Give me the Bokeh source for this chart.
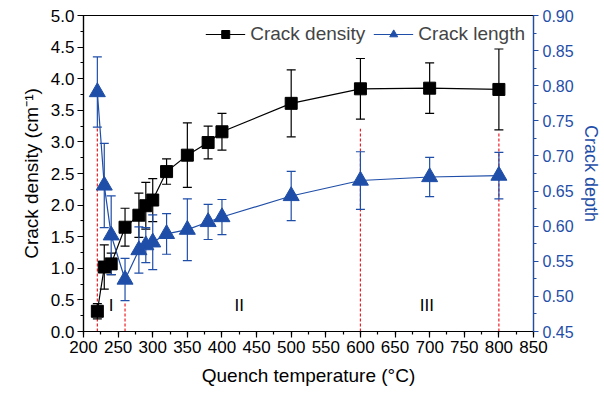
from bokeh.plotting import figure
from bokeh.models import Range1d, LinearAxis, FixedTicker, Legend, LegendItem, CustomJSTickFormatter
from bokeh.core.properties import value
from bokeh.embed import file_html
from bokeh.resources import INLINE

# Data
temps = [220, 230, 240, 260, 280, 290, 300, 320, 350, 380, 400, 500, 600, 700, 800]
density = [0.32, 1.02, 1.07, 1.65, 1.84, 1.99, 2.08, 2.53, 2.79, 2.99, 3.16, 3.61, 3.84, 3.85, 3.83]
density_err = [0.12, 0.35, 0.17, 0.30, 0.35, 0.37, 0.34, 0.20, 0.51, 0.26, 0.29, 0.53, 0.48, 0.40, 0.64]
length = [0.791, 0.658, 0.587, 0.524, 0.566, 0.573, 0.577, 0.589, 0.595, 0.606, 0.613, 0.643, 0.665, 0.670, 0.672]
length_err = [0.050, 0.060, 0.056, 0.030, 0.033, 0.025, 0.039, 0.029, 0.044, 0.025, 0.025, 0.035, 0.041, 0.028, 0.033]

divider_x = [220, 260, 600, 800]
divider_top = [3.24, 0.46, 3.21, 3.16]

region_labels = ["I", "II", "III"]
region_x = [240, 425, 696]
region_y = [0.41, 0.41, 0.41]

x_ticks = list(range(200, 851, 50))
left_ticks = [0.0, 0.5, 1.0, 1.5, 2.0, 2.5, 3.0, 3.5, 4.0, 4.5, 5.0]
right_ticks = [0.45, 0.50, 0.55, 0.60, 0.65, 0.70, 0.75, 0.80, 0.85, 0.90]

BLUE = "#1f4ea8"
FONT = "Liberation Sans"

p = figure(width=604, height=396, output_backend="svg", toolbar_location=None,
           x_range=Range1d(200, 850), y_range=Range1d(0, 5.0),
           frame_width=450, frame_height=316,
           min_border_left=83, min_border_right=71, min_border_top=15, min_border_bottom=65)
p.extra_y_ranges = {"right": Range1d(0.45, 0.90)}
p.grid.visible = False
p.outline_line_color = "black"
p.outline_line_width = 1.2
p.background_fill_color = "white"
p.border_fill_color = "white"

def style_axis(ax, color):
    ax.axis_line_color = color
    ax.axis_line_width = 1.2
    ax.major_tick_line_color = color
    ax.minor_tick_line_color = color
    ax.major_tick_line_width = 1.2
    ax.minor_tick_line_width = 1.2
    ax.major_tick_in = 0
    ax.major_tick_out = 6
    ax.minor_tick_in = 0
    ax.minor_tick_out = 3
    ax.major_label_text_color = color
    ax.major_label_text_font = FONT
    ax.major_label_text_font_size = "17px"
    ax.axis_label_text_color = color
    ax.axis_label_text_font = FONT
    ax.axis_label_text_font_size = "19px"
    ax.axis_label_text_font_style = "normal"

xa = p.xaxis[0]
style_axis(xa, "black")
xa.ticker = FixedTicker(ticks=x_ticks, minor_ticks=list(range(200, 851, 25)))
xa.axis_label = "Quench temperature (°C)"
xa.axis_label_standoff = 9
xa.major_label_standoff = 3

ya = p.yaxis[0]
style_axis(ya, "black")
ya.ticker = FixedTicker(ticks=left_ticks, minor_ticks=[i * 0.25 for i in range(21)])
ya.formatter = CustomJSTickFormatter(code="return tick.toFixed(1);")
ya.axis_label = "Crack density (cm⁻¹)"
ya.axis_label_standoff = 6
ya.major_label_standoff = 3

ra = LinearAxis(y_range_name="right")
style_axis(ra, BLUE)
ra.major_label_text_font_size = "16px"
ra.axis_label_text_font_size = "18px"
ra.major_tick_out = 5
ra.ticker = FixedTicker(ticks=right_ticks, minor_ticks=[0.45 + i * 0.025 for i in range(19)])
ra.formatter = CustomJSTickFormatter(code="return tick.toFixed(2);")
ra.axis_label = "Crack depth"
ra.axis_label_standoff = 4
ra.major_label_standoff = 4
p.add_layout(ra, "right")

# red dividers
p.segment(x0=divider_x, y0=[0] * 4, x1=divider_x, y1=divider_top,
          line_color="#ee1c24", line_width=1.2, line_dash="3 2")

# error bars density
d_lo = [v - e for v, e in zip(density, density_err)]
d_hi = [v + e for v, e in zip(density, density_err)]
p.segment(x0=temps, y0=d_lo, x1=temps, y1=d_hi, line_color="black", line_width=1.2)
p.scatter(x=temps + temps, y=d_lo + d_hi, marker="dash", size=9, line_color="black", line_width=1.2)

# error bars length
l_lo = [v - e for v, e in zip(length, length_err)]
l_hi = [v + e for v, e in zip(length, length_err)]
p.segment(x0=temps, y0=l_lo, x1=temps, y1=l_hi, line_color=BLUE, line_width=1.2, y_range_name="right")
p.scatter(x=temps + temps, y=l_lo + l_hi, marker="dash", size=9, line_color=BLUE, line_width=1.2,
          y_range_name="right")

# series
dl = p.line(temps, density, line_color="black", line_width=1.2)
ds = p.scatter(temps, density, marker="square", size=12, fill_color="black", line_color="black")
ll = p.line(temps, length, line_color=BLUE, line_width=1.2, y_range_name="right")
ls = p.scatter(temps, length, marker="triangle", size=16, fill_color=BLUE, line_color=BLUE,
               y_range_name="right")

# region labels
p.text(x=region_x, y=region_y, text=region_labels, text_font=value(FONT), text_font_size="17px",
       text_align="center", text_baseline="middle", text_color="black")

legend = Legend(items=[LegendItem(label="Crack density", renderers=[dl, ds]),
                       LegendItem(label="Crack length", renderers=[ll, ls])],
                orientation="horizontal", location="top_right")
legend.background_fill_alpha = 0
legend.border_line_alpha = 0
legend.label_text_font = FONT
legend.label_text_font_size = "19px"
legend.glyph_width = 40
legend.spacing = 8
legend.label_standoff = 5
legend.margin = 6
legend.padding = 2
p.add_layout(legend)

open("out.html", "w").write(file_html(p, INLINE))
